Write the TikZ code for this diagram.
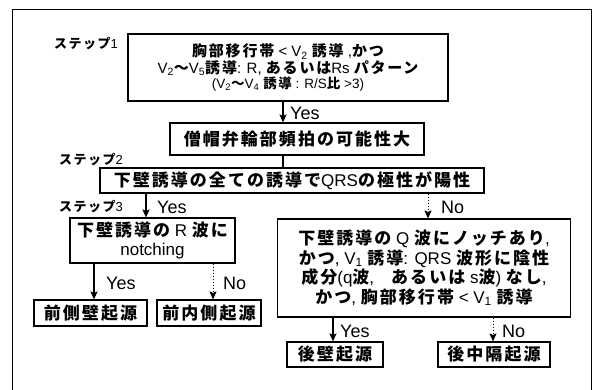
\documentclass[tikz,border=0pt]{standalone}
\usepackage{fontspec}
\setmainfont{Liberation Sans}
\newfontfamily\jp{Noto Sans CJK JP}[LetterSpace=12]
\newcommand\J[1]{{\jp\bfseries #1}}
\usetikzlibrary{arrows.meta}
\tikzset{
  box/.style={draw, line width=1.1pt, inner sep=0pt, align=center},
  arr/.style={-{Stealth[length=8pt,width=7pt,inset=1.5pt]}, line width=1.6pt},
  darr/.style={-{Stealth[length=8pt,width=7pt,inset=1.5pt]}, line width=1pt, dotted},
  lbl/.style={inner sep=0pt, anchor=west, font=\fontsize{18}{18}\selectfont},
  steplbl/.style={inner sep=0pt, font=\fontsize{13}{13}\selectfont},
  big/.style={font=\fontsize{17}{19.5}\selectfont}
}
\begin{document}
\begin{tikzpicture}[x=1pt,y=-1pt]
\useasboundingbox (0,0) rectangle (596,390);
\draw[line width=1pt] (12,390) -- (12,10) -- (591,10) -- (591,390);

\node[box, minimum width=320pt, minimum height=67pt] (B1) at (288,67.5)
 {{\fontsize{15}{18}\selectfont \J{胸部移行帯} < V\textsubscript{2} \J{誘導} ,\J{かつ}}\\
  {\fontsize{15}{18}\selectfont V\textsubscript{2}\J{〜}V\textsubscript{5}\J{誘導}: R, \J{あるいは}Rs \J{パターン}}\\
  {\fontsize{13.5}{15}\selectfont (V\textsubscript{2}\J{〜}V\textsubscript{4} \J{誘導} : R/S\J{比} >3)}};
\node[box, big, minimum width=254pt, minimum height=32pt] (B2) at (297,139) {\J{僧帽弁輪部頻拍の可能性大}};
\node[box, big, minimum width=384pt, minimum height=25pt] (B3) at (292,180.5) {\J{下壁誘導の全ての誘導で}QRS\J{の極性が陽性}};
\node[box, big, minimum width=165pt, minimum height=45pt] (B4) at (152.5,240.5) {\J{下壁誘導の} R \J{波に}\\notching};
\node[box, big, minimum width=293pt, minimum height=98pt] (B5) at (424,268)
 {\J{下壁誘導の} Q \J{波にノッチあり},\\
  \J{かつ}, V\textsubscript{1} \J{誘導}: QRS \J{波形に陰性}\\
  \J{成分}(q\J{波},\quad \J{あるいは} s\J{波}) \J{なし},\\
  \J{かつ}, \J{胸部移行帯} < V\textsubscript{1} \J{誘導}};
\node[box, big, minimum width=113pt, minimum height=26pt] (B6) at (90.5,313) {\J{前側壁起源}};
\node[box, big, minimum width=104pt, minimum height=26pt] (B7) at (209,313) {\J{前内側起源}};
\node[box, big, minimum width=96pt, minimum height=25pt] (B8) at (335,354.5) {\J{後壁起源}};
\node[box, big, minimum width=112pt, minimum height=25pt] (B9) at (494,354.5) {\J{後中隔起源}};

\node[steplbl] (S1) at (86,44) {\J{ステップ}1};
\node[steplbl] (S2) at (91,160) {\J{ステップ}2};
\node[steplbl] (S3) at (91,207) {\J{ステップ}3};

\coordinate (xa) at (283,0);
\coordinate (xb) at (146,0);
\coordinate (xc) at (428,0);
\coordinate (xd) at (94,0);
\coordinate (xe) at (213,0);
\coordinate (xf) at (333,0);
\coordinate (xg) at (493,0);

\draw[arr] (B1.south -| xa) -- (B2.north -| xa);
\draw[line width=1.6pt] (B2.south -| xa) -- (B3.north -| xa);
\draw[arr] (B3.south -| xb) -- (B4.north -| xb);
\draw[darr] (B3.south -| xc) -- (B5.north -| xc);
\draw[arr] (B4.south -| xd) -- (B6.north -| xd);
\draw[darr] (B4.south -| xe) -- (B7.north -| xe);
\draw[arr] (B5.south -| xf) -- (B8.north -| xf);
\draw[darr] (B5.south -| xg) -- (B9.north -| xg);

\node[lbl] (Y1) at (290,113) {Yes};
\node[lbl] (Y2) at (157,207) {Yes};
\node[lbl] (N2) at (441,207) {No};
\node[lbl] (Y3) at (106,283) {Yes};
\node[lbl] (N3) at (223,283) {No};
\node[lbl] (Y4) at (340,331) {Yes};
\node[lbl] (N4) at (502,331) {No};
\end{tikzpicture}
\end{document}
